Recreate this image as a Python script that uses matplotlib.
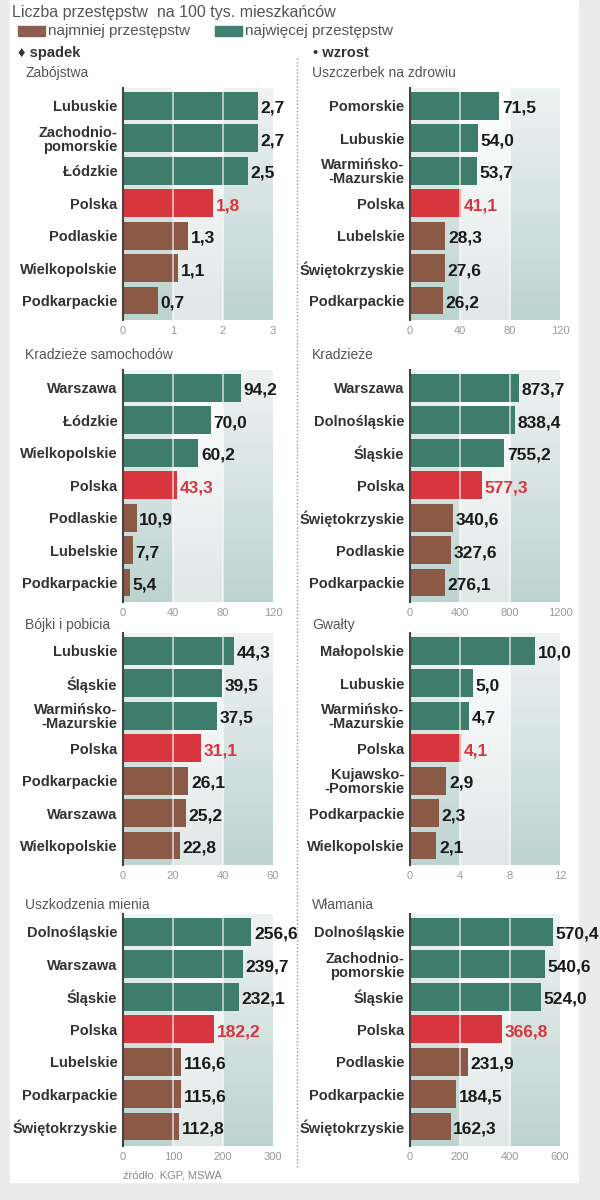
import matplotlib
matplotlib.use("Agg")
import matplotlib.pyplot as plt
import numpy as np
from matplotlib.colors import LinearSegmentedColormap
from matplotlib.patches import Rectangle
from matplotlib.lines import Line2D

plt.rcParams['font.family'] = ['Liberation Sans', 'DejaVu Sans']

# --- data ---------------------------------------------------------------
titles = ["Zabójstwa", "Uszczerbek na zdrowiu",
          "Kradzieże samochodów", "Kradzieże",
          "Bójki i pobicia", "Gwałty",
          "Uszkodzenia mienia", "Włamania"]

labels = [
    ["Lubuskie", "Zachodnio-\npomorskie", "Łódzkie", "Polska", "Podlaskie", "Wielkopolskie", "Podkarpackie"],
    ["Pomorskie", "Lubuskie", "Warmińsko-\n-Mazurskie", "Polska", "Lubelskie", "Świętokrzyskie", "Podkarpackie"],
    ["Warszawa", "Łódzkie", "Wielkopolskie", "Polska", "Podlaskie", "Lubelskie", "Podkarpackie"],
    ["Warszawa", "Dolnośląskie", "Śląskie", "Polska", "Świętokrzyskie", "Podlaskie", "Podkarpackie"],
    ["Lubuskie", "Śląskie", "Warmińsko-\n-Mazurskie", "Polska", "Podkarpackie", "Warszawa", "Wielkopolskie"],
    ["Małopolskie", "Lubuskie", "Warmińsko-\n-Mazurskie", "Polska", "Kujawsko-\n-Pomorskie", "Podkarpackie", "Wielkopolskie"],
    ["Dolnośląskie", "Warszawa", "Śląskie", "Polska", "Lubelskie", "Podkarpackie", "Świętokrzyskie"],
    ["Dolnośląskie", "Zachodnio-\npomorskie", "Śląskie", "Polska", "Podlaskie", "Podkarpackie", "Świętokrzyskie"],
]

values = [
    [2.7, 2.7, 2.5, 1.8, 1.3, 1.1, 0.7],
    [71.5, 54.0, 53.7, 41.1, 28.3, 27.6, 26.2],
    [94.2, 70.0, 60.2, 43.3, 10.9, 7.7, 5.4],
    [873.7, 838.4, 755.2, 577.3, 340.6, 327.6, 276.1],
    [44.3, 39.5, 37.5, 31.1, 26.1, 25.2, 22.8],
    [10.0, 5.0, 4.7, 4.1, 2.9, 2.3, 2.1],
    [256.6, 239.7, 232.1, 182.2, 116.6, 115.6, 112.8],
    [570.4, 540.6, 524.0, 366.8, 231.9, 184.5, 162.3],
]

axis_max = [3, 120, 120, 1200, 60, 12, 300, 600]

# --- styles -------------------------------------------------------------
TEAL = "#3e7c6b"
RED = "#d8363f"
BROWN = "#8a5a47"
bar_colors = [TEAL, TEAL, TEAL, RED, BROWN, BROWN, BROWN]

W, H = 600, 1200
fig = plt.figure(figsize=(6, 12), dpi=100)
fig.patch.set_facecolor("#ebebeb")
fig.add_artist(Rectangle((10 / W, 18 / H), 568 / W, 1 - 18 / H,
                         transform=fig.transFigure, color="white", zorder=-10))

def fx(px):
    return px / W

def fy(py):
    return 1 - py / H

outer_cmap = LinearSegmentedColormap.from_list("o", ["#eef3f2", "#bdd3d0"])
mid_cmap = LinearSegmentedColormap.from_list("m", ["#ffffff", "#dfe8e7"])
grad = np.linspace(0, 1, 64).reshape(-1, 1)

col_left = [123, 410]
row_top = [88, 370, 633, 914]
row_title = [73, 355, 625, 905]
ax_h = 232

for i in range(8):
    r, c = divmod(i, 2)
    left = col_left[c]
    top = row_top[r]
    ax = fig.add_axes([fx(left), fy(top + ax_h), fx(150), ax_h / H])
    ax.set_facecolor("none")
    m = axis_max[i]
    ylo, yhi = 6.6, -0.55
    for b in range(3):
        cmap = mid_cmap if b == 1 else outer_cmap
        ax.imshow(grad, extent=[b * m / 3, (b + 1) * m / 3, ylo, yhi],
                  origin="upper", aspect="auto", cmap=cmap, zorder=0)
    y = np.arange(7)
    ax.barh(y, values[i], height=0.86, color=bar_colors, zorder=2)
    for k in (1, 2):
        ax.axvline(k * m / 3, color="white", lw=1.2, alpha=0.7, zorder=3)
    ax.set_xlim(0, m)
    ax.set_ylim(ylo, yhi)
    for s in ["top", "right", "bottom"]:
        ax.spines[s].set_visible(False)
    ax.spines["left"].set_color("#444444")
    ax.spines["left"].set_linewidth(1.5)
    ax.spines["left"].set_zorder(4)
    ax.set_xticks([0, m / 3, 2 * m / 3, m])
    ax.set_xticklabels([f"{int(round(t))}" for t in [0, m / 3, 2 * m / 3, m]],
                       fontsize=8, color="#999999")
    ax.tick_params(axis="x", length=0, pad=4)
    ax.set_yticks(y)
    ax.set_yticklabels(labels[i], fontsize=10.5, color="#333333",
                       fontweight="bold", linespacing=0.98)
    ax.tick_params(axis="y", length=0, pad=4)
    for k, v in enumerate(values[i]):
        txt = f"{v:.1f}".replace(".", ",")
        ax.text(v + m * 0.018, k + 0.08, txt, va="center", ha="left",
                fontsize=12.5, fontweight="bold",
                color=RED if k == 3 else "#1a1a1a", zorder=5, clip_on=False)
    fig.text(fx(25 if c == 0 else 312), fy(row_title[r]), titles[i],
             fontsize=10, color="#555555", va="center", ha="left")

# header
fig.text(fx(12), fy(12), "Liczba przestępstw  na 100 tys. mieszkańców",
         fontsize=11.5, color="#555555", va="center", ha="left")
fig.add_artist(Rectangle((fx(18), fy(36)), fx(27), 10 / H,
                         transform=fig.transFigure, color="#8a5f4f"))
fig.text(fx(48), fy(31), "najmniej przestępstw", fontsize=11,
         color="#555555", va="center", ha="left")
fig.add_artist(Rectangle((fx(215), fy(36)), fx(27), 10 / H,
                         transform=fig.transFigure, color="#3f8070"))
fig.text(fx(245), fy(31), "najwięcej przestępstw", fontsize=11,
         color="#555555", va="center", ha="left")
fig.text(fx(18), fy(53), "♦ spadek", fontsize=10.5, color="#333333",
         fontweight="bold", va="center", ha="left")
fig.text(fx(313), fy(53), "• wzrost", fontsize=10.5, color="#333333",
         fontweight="bold", va="center", ha="left")

# separator and source
fig.add_artist(Line2D([fx(297), fx(297)], [fy(58), fy(1168)],
                      transform=fig.transFigure, color="#999999",
                      lw=1, linestyle=(0, (1, 1.5))))
fig.text(fx(123), fy(1176), "źródło: KGP, MSWA", fontsize=8,
         color="#888888", va="center", ha="left")

fig.savefig("out.png", dpi=100, facecolor=fig.get_facecolor())
